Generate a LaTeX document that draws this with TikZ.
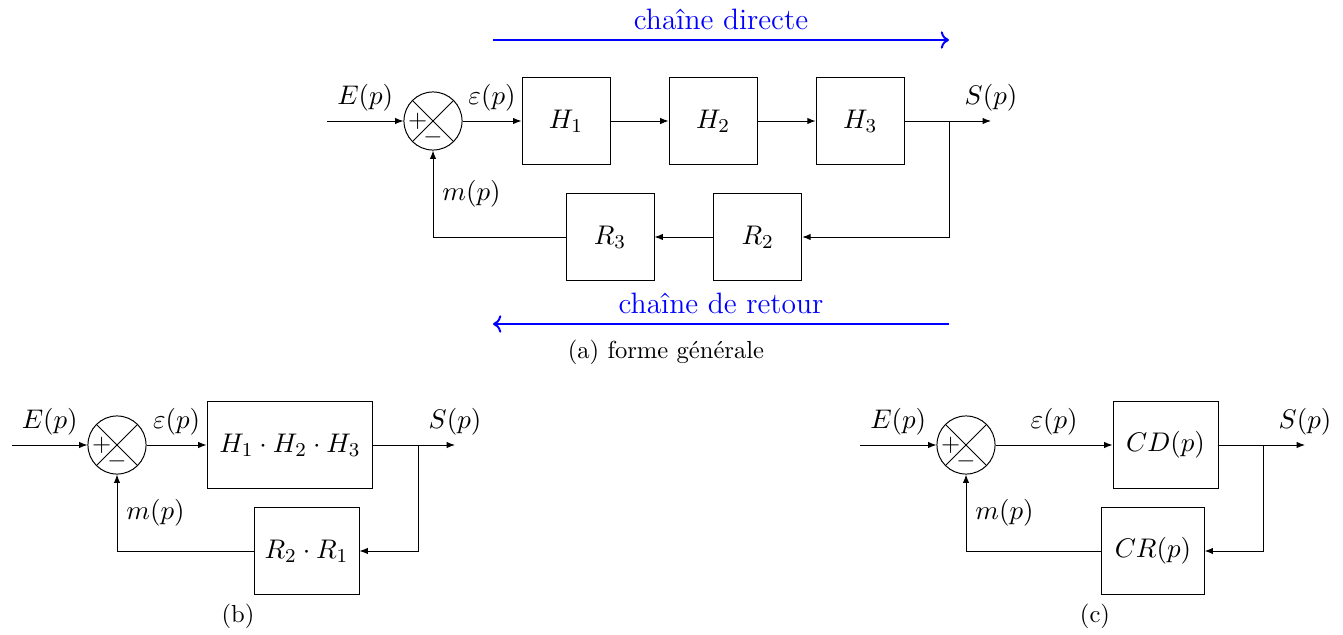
\documentclass[tikz,border=0pt,11pt]{standalone}
\usepackage{amsmath,amssymb}
\usepackage{tikz}
\usetikzlibrary{arrows.meta,positioning}
\tikzstyle{block}=[rectangle,draw,minimum width=1.257cm,minimum height=1.243cm]
\tikzstyle{sumnode}=[circle,draw,minimum size=0.83cm,inner sep=0pt,
                  path picture={\draw (path picture bounding box.north west)--(path picture bounding box.south east)
                                      (path picture bounding box.south west)--(path picture bounding box.north east);}]
\tikzstyle{arrow}=[-{Latex[length=3.4pt,width=2.6pt]}]
\tikzstyle{chaine}=[->,thick,blue]
\tikzstyle{legende}=[font=\small]

\begin{document}
\begin{tikzpicture}[x=0.1428571mm,y=-0.1428571mm]
      \useasboundingbox (0,0) rectangle (1343,635);
      % (a) forme generale
      \coordinate (ea) at (327,121);
      \node[sumnode] (sa) at (433,121) {};
      \node[font=\small] (sap) at ([xshift=-0.22cm]sa.center) {$+$};
      \node[font=\small] (sam) at ([yshift=-0.23cm]sa.center) {$-$};
      \node[block] (h1) at (566,121) {$H_1$};
      \node[block,right=0.83cm of h1] (h2) {$H_2$};
      \node[block,right=0.83cm of h2] (h3) {$H_3$};
      \coordinate (ba) at (949,121);
      \coordinate (outa) at (991,121);
      \node[block] (r3) at (610,237) {$R_3$};
      \node[block,right=0.84cm of r3] (r2) {$R_2$};

      \draw[arrow] (ea)--node[above] (lea) {$E(p)$} (sa);
      \draw[arrow] (sa)--node[above] (lepsa) {$\varepsilon(p)$} (h1);
      \draw[arrow] (h1)--(h2);
      \draw[arrow] (h2)--(h3);
      \draw[arrow] (h3)--(outa) node[above] (lsa) {$S(p)$};
      \draw[arrow] (ba) |- (r2);
      \draw[arrow] (r2)--(r3);
      \draw[arrow] (r3) -| node[pos=0.75,right] (lma) {$m(p)$} (sa);

      \coordinate (cd1) at (493,40);
      \coordinate (cd2) at (949,40);
      \coordinate (cr1) at (949,324);
      \coordinate (cr2) at (493,324);
      \draw[chaine] (cd1)--node[above,font=\large] (lcd) {chaîne directe} (cd2);
      \draw[chaine] (cr1)--node[above,font=\large] (lcr) {chaîne de retour} (cr2);
      \node[legende] (capa) at (666,352) {(a) forme générale};

      % (b)
      \coordinate (eb) at (12,445);
      \node[sumnode] (sb) at (117,445) {};
      \node[font=\small] (sbp) at ([xshift=-0.22cm]sb.center) {$+$};
      \node[font=\small] (sbm) at ([yshift=-0.23cm]sb.center) {$-$};
      \node[block,minimum width=2.37cm] (hb) at (290,445) {$H_1\cdot H_2\cdot H_3$};
      \node[block,minimum width=1.5cm] (rb) at (306.5,551) {$R_2\cdot R_1$};
      \coordinate (bb) at (418,445);
      \coordinate (outb) at (455,445);

      \draw[arrow] (eb)--node[above] (leb) {$E(p)$} (sb);
      \draw[arrow] (sb)--node[above] (lepsb) {$\varepsilon(p)$} (hb);
      \draw[arrow] (hb)--(outb) node[above] (lsb) {$S(p)$};
      \draw[arrow] (bb) |- (rb);
      \draw[arrow] (rb) -| node[pos=0.75,right] (lmb) {$m(p)$} (sb);
      \node[legende] (capb) at (238,616) {(b)};

      % (c)
      \coordinate (ec) at (860,445);
      \node[sumnode] (sc) at (966,445) {};
      \node[font=\small] (scp) at ([xshift=-0.22cm]sc.center) {$+$};
      \node[font=\small] (scm) at ([yshift=-0.23cm]sc.center) {$-$};
      \node[block,minimum width=1.5cm] (cd) at (1165.5,445) {$CD(p)$};
      \node[block,minimum width=1.46cm] (cr) at (1153,551) {$CR(p)$};
      \coordinate (bc) at (1263,445);
      \coordinate (outc) at (1305,445);

      \draw[arrow] (ec)--node[above] (lec) {$E(p)$} (sc);
      \draw[arrow] (sc)--node[above] (lepsc) {$\varepsilon(p)$} (cd);
      \draw[arrow] (cd)--(outc) node[above] (lsc) {$S(p)$};
      \draw[arrow] (bc) |- (cr);
      \draw[arrow] (cr) -| node[pos=0.75,right] (lmc) {$m(p)$} (sc);
      \node[legende] (capc) at (1095,616) {(c)};
    \end{tikzpicture}
\end{document}
